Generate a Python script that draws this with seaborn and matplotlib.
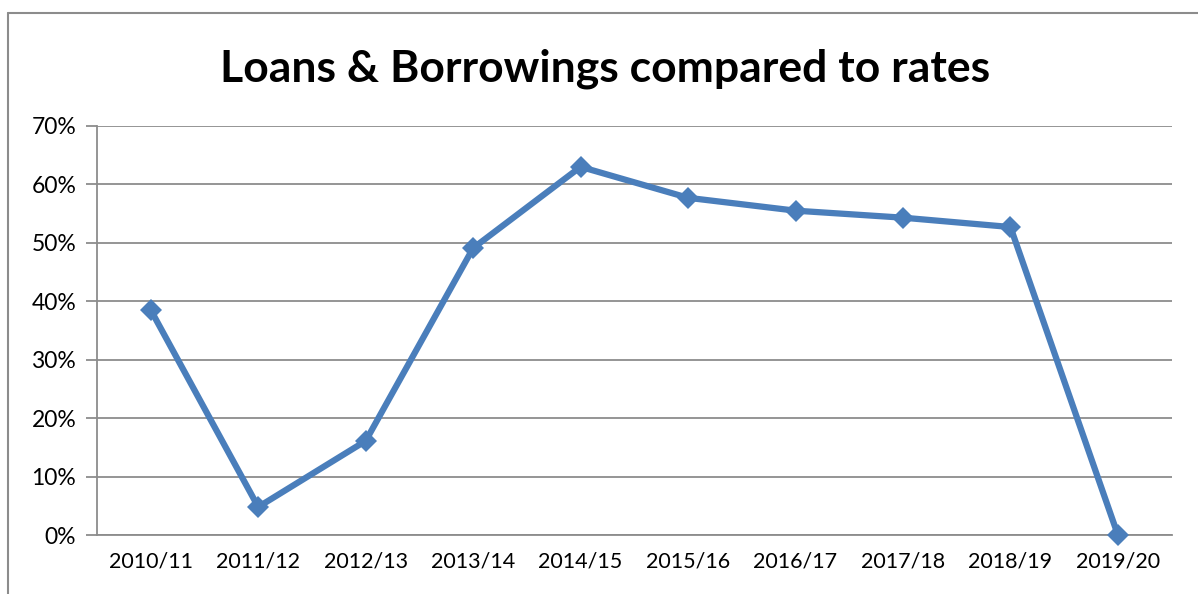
import matplotlib.pyplot as plt
import matplotlib.ticker as mticker
import seaborn as sns
from matplotlib.lines import Line2D

sns.set_style("white")
plt.rcParams["font.family"] = ["Lato", "DejaVu Sans"]
plt.rcParams["text.color"] = "black"
plt.rcParams["xtick.color"] = "black"
plt.rcParams["ytick.color"] = "black"

years = ["2010/11", "2011/12", "2012/13", "2013/14", "2014/15",
         "2015/16", "2016/17", "2017/18", "2018/19", "2019/20"]
ratio = [0.385, 0.048, 0.161, 0.491, 0.630, 0.577, 0.555, 0.543, 0.527, 0.0]

fig = plt.figure(figsize=(11.98, 5.94), dpi=100)
ax = fig.add_axes([0.081, 0.0993, 0.897, 0.6887])

xs = list(range(len(years)))
sns.lineplot(x=xs, y=ratio, ax=ax, color="#4a7ebb", linewidth=4.5,
             marker="D", markersize=11, markeredgewidth=0, clip_on=False,
             zorder=5)

ax.set_xlim(-0.5, len(years) - 0.5)
ax.set_ylim(0, 0.7)
ax.yaxis.set_major_locator(mticker.MultipleLocator(0.1))
ax.yaxis.set_major_formatter(mticker.PercentFormatter(1.0, decimals=0))
ax.grid(axis="y", color="#8c8c8c", linewidth=1.3)
ax.set_axisbelow(True)

# category labels in the middle, tick marks on the boundaries
ax.set_xticks(xs)
ax.set_xticklabels(years)
ax.tick_params(axis="x", which="major", length=0, pad=12, labelsize=15.5)
ax.set_xticks([i - 0.5 for i in range(len(years) + 1)], minor=True)
ax.tick_params(axis="x", which="minor", length=8, width=1.3, color="#8c8c8c")
ax.tick_params(axis="y", length=8, width=1.3, color="#8c8c8c", pad=7,
               labelsize=16.5, left=True, labelcolor="black")
ax.tick_params(axis="x", labelcolor="black")

for side in ["top", "right"]:
    ax.spines[side].set_visible(False)
for side in ["left", "bottom"]:
    ax.spines[side].set_color("#8c8c8c")
    ax.spines[side].set_linewidth(1.3)

fig.text(0.505, 0.885, "Loans & Borrowings compared to rates",
         ha="center", va="center", fontsize=32, fontweight="bold",
         color="black")

# chart frame
fig.add_artist(Line2D([8 / 1198, 8 / 1198], [0, 1 - 13 / 594],
                      color="#8c8c8c", linewidth=1.5))
fig.add_artist(Line2D([8 / 1198, 1], [1 - 13 / 594, 1 - 13 / 594],
                      color="#8c8c8c", linewidth=1.5))

plt.savefig("out.png", dpi=100)
